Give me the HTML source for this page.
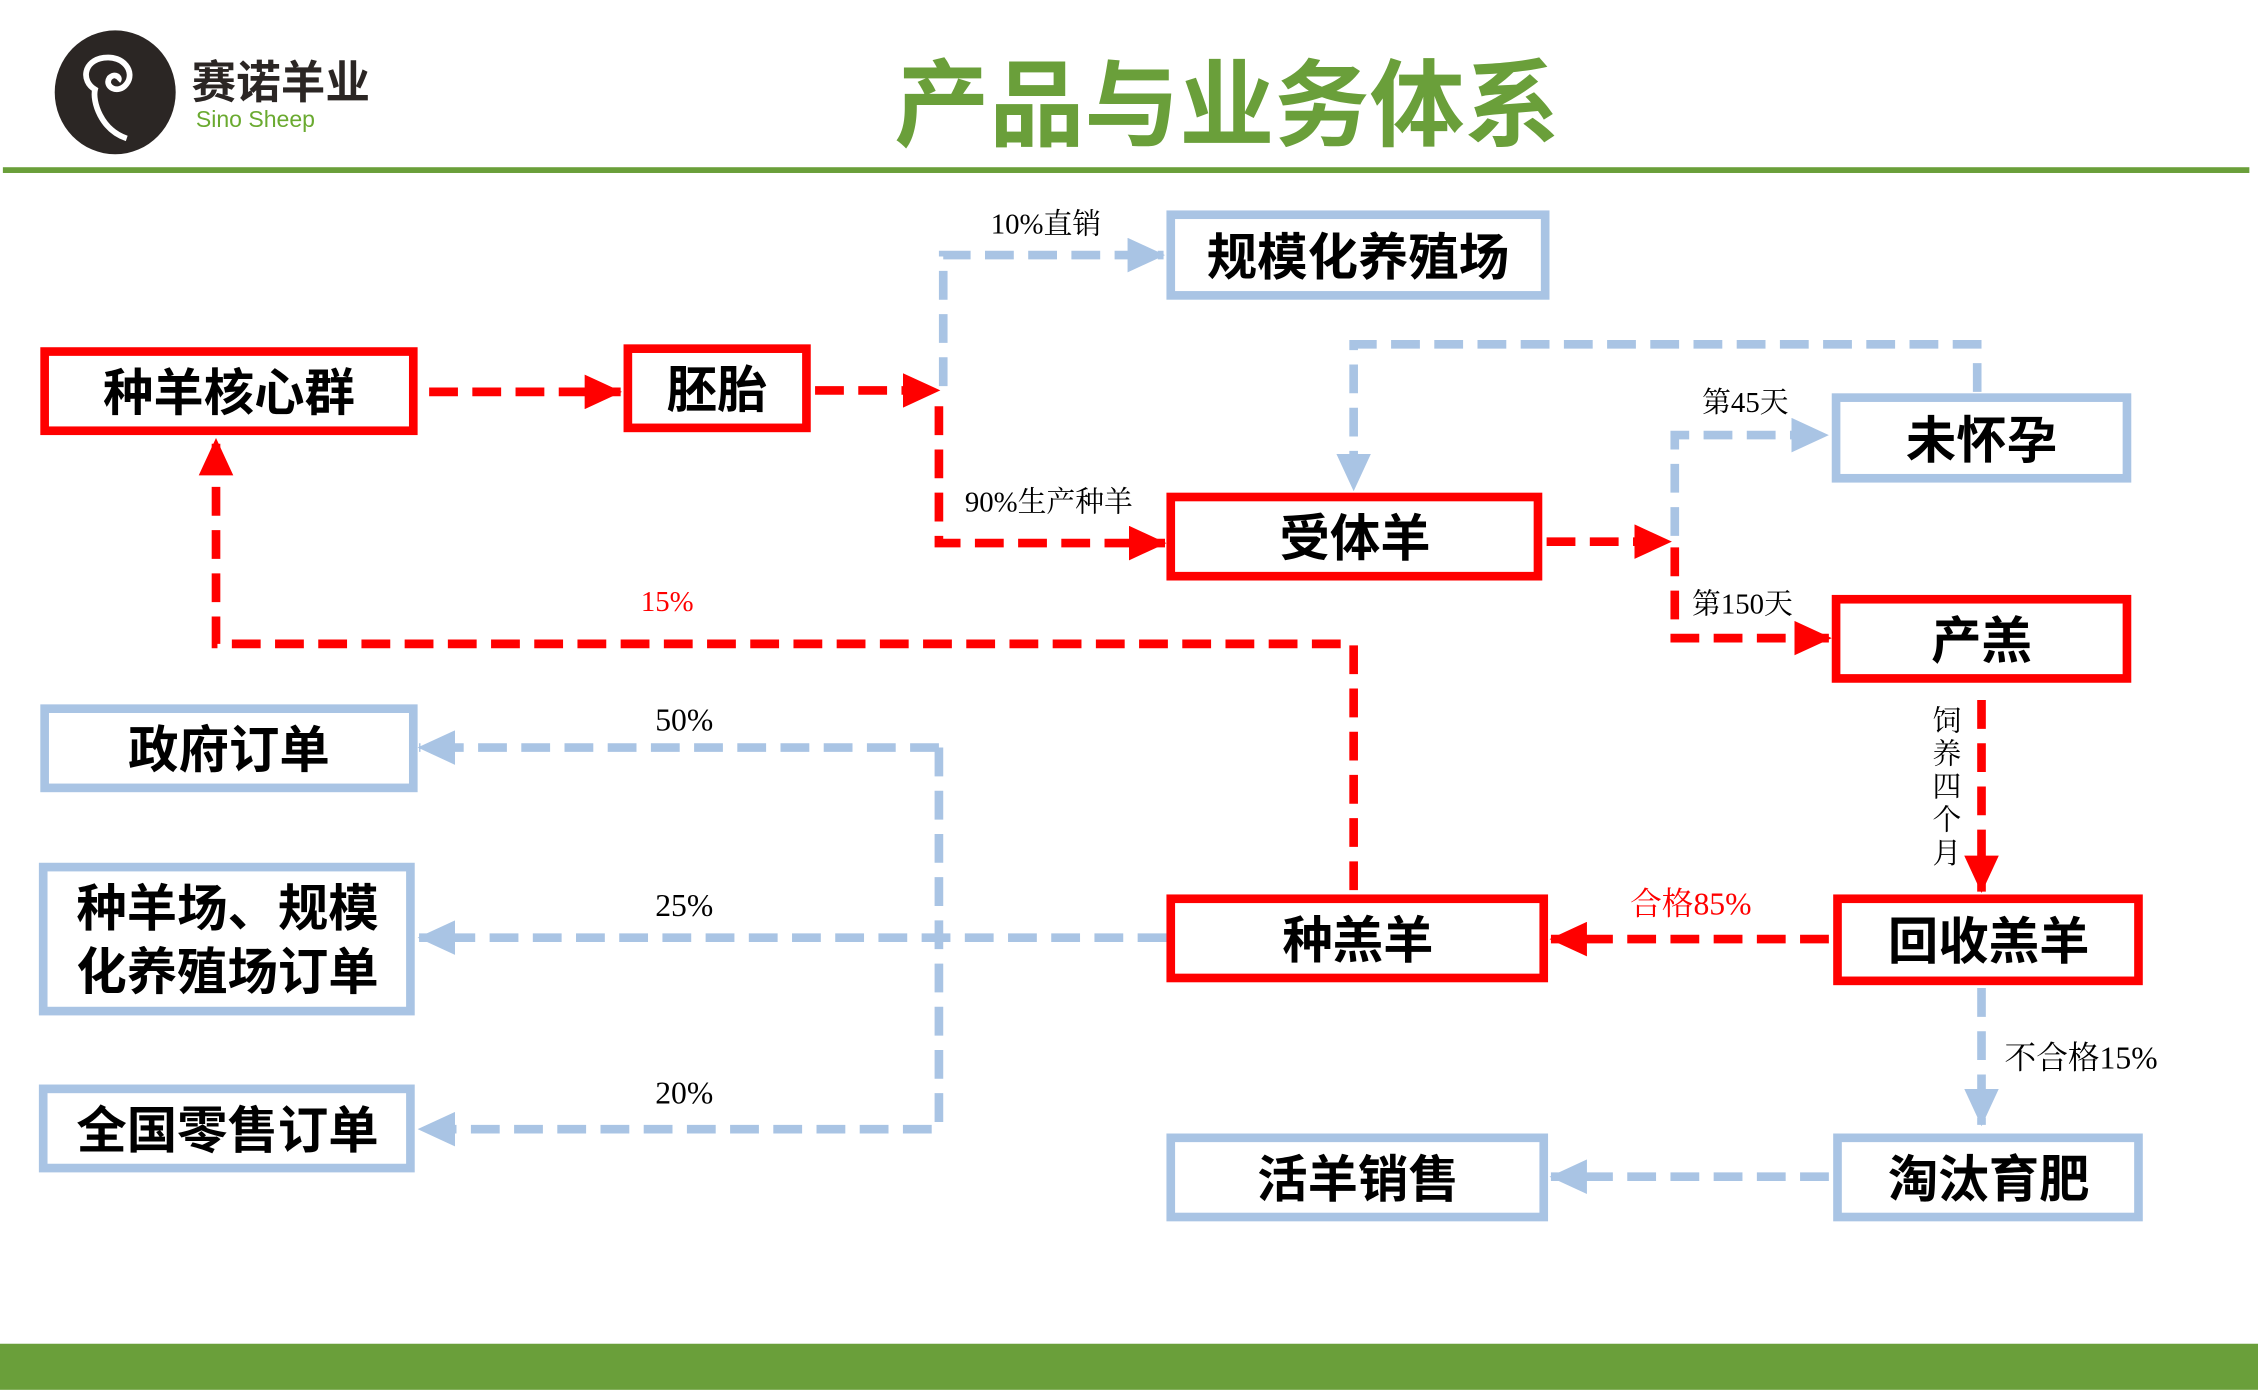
<!DOCTYPE html>
<html><head><meta charset="utf-8"><style>
html,body{margin:0;padding:0;background:#fff;}
svg{display:block;}
text{font-family:"Liberation Serif","Noto Serif CJK SC",serif;}
.b{font-family:"Liberation Sans","Noto Sans CJK SC",sans-serif;font-weight:bold;fill:#000;font-size:35px;}
</style></head><body>
<svg width="2258" height="1390" viewBox="0 0 1568 965" xmlns="http://www.w3.org/2000/svg">
<defs>
<marker id="ar" markerWidth="26" markerHeight="24" refX="25" refY="12" orient="auto" markerUnits="userSpaceOnUse" viewBox="0 0 26 24"><path d="M0,0 L26,12 L0,24 z" fill="#ff0000"/></marker>
<marker id="ab" markerWidth="26" markerHeight="24" refX="25" refY="12" orient="auto" markerUnits="userSpaceOnUse" viewBox="0 0 26 24"><path d="M0,0 L26,12 L0,24 z" fill="#a9c4e4"/></marker>
</defs>
<ellipse cx="80" cy="64" rx="42" ry="43" fill="#2b2624"/>
<path d="M88,96 C70,90 64,70 66,62 C56,56 58,42 72,40 C86,38 94,50 88,58 C82,66 72,60 76,54 C80,50 84,54 82,56" fill="none" stroke="#fff" stroke-width="4"/>
<text x="133" y="68" style="font-family:'Liberation Sans','Noto Sans CJK SC',sans-serif;font-weight:bold;font-size:31px;fill:#2b2624">赛诺羊业</text>
<text x="136" y="88" style="font-family:'Liberation Sans',sans-serif;font-size:16px;fill:#6aaa30">Sino Sheep</text>
<text x="852" y="96" text-anchor="middle" style="font-family:'Liberation Sans','Noto Sans CJK SC',sans-serif;font-weight:bold;font-size:66px;fill:#6a9f3a">产品与业务体系</text>
<rect x="2" y="116" width="1560" height="4" fill="#6a9f3a"/>
<rect x="0" y="933" width="1568" height="32" fill="#6a9f3a"/>

<g fill="none" stroke-width="6" stroke-dasharray="20 10">
<g stroke="#ff0000">
<path d="M298,272 H431" marker-end="url(#ar)"/>
<path d="M566,271 H652" marker-end="url(#ar)"/>
<path d="M652,282 V377 H809" marker-end="url(#ar)"/>
<path d="M1074,376 H1160" marker-end="url(#ar)"/>
<path d="M1163,380 V443 H1271" marker-end="url(#ar)"/>
<path d="M1376,486 V619" marker-end="url(#ar)"/>
<path d="M1270,652 H1077" marker-end="url(#ar)"/>
<path d="M940,618 V447 H150 V305" marker-end="url(#ar)"/>
</g>
<g stroke="#a9c4e4">
<path d="M655,268 V177 H808" marker-end="url(#ab)"/>
<path d="M1373,272 V239 H940 V340" marker-end="url(#ab)"/>
<path d="M1163,372 V302 H1269" marker-end="url(#ab)"/>
<path d="M1376,686 V781" marker-end="url(#ab)"/>
<path d="M1270,817 H1077" marker-end="url(#ab)"/>
<path d="M810,651 H291" marker-end="url(#ab)"/>
<path d="M652,519 H291" marker-end="url(#ab)"/>
<path d="M652,519 V784 H291" marker-end="url(#ab)"/>
</g>
</g>

<g fill="#fff" stroke-width="6">
<rect x="31" y="244" width="256" height="55" stroke="#ff0000"/>
<rect x="436" y="242" width="124" height="55" stroke="#ff0000"/>
<rect x="813" y="149" width="260" height="56" stroke="#a9c4e4"/>
<rect x="1275" y="276" width="202" height="56" stroke="#a9c4e4"/>
<rect x="813" y="345" width="255" height="55" stroke="#ff0000"/>
<rect x="1275" y="416" width="202" height="55" stroke="#ff0000"/>
<rect x="31" y="492" width="256" height="55" stroke="#a9c4e4"/>
<rect x="30" y="602" width="255" height="100" stroke="#a9c4e4"/>
<rect x="30" y="756" width="255" height="55" stroke="#a9c4e4"/>
<rect x="813" y="624" width="259" height="55" stroke="#ff0000"/>
<rect x="1276" y="624" width="209" height="57" stroke="#ff0000"/>
<rect x="813" y="790" width="259" height="55" stroke="#a9c4e4"/>
<rect x="1276" y="790" width="209" height="55" stroke="#a9c4e4"/>
</g>
<g text-anchor="middle">
<text class="b" x="159" y="285">种羊核心群</text>
<text class="b" x="498" y="283">胚胎</text>
<text class="b" x="943" y="191">规模化养殖场</text>
<text class="b" x="1376" y="318">未怀孕</text>
<text class="b" x="941" y="386">受体羊</text>
<text class="b" x="1376" y="457">产羔</text>
<text class="b" x="159" y="533">政府订单</text>
<text class="b" x="158" y="643">种羊场、规模</text>
<text class="b" x="158" y="687">化养殖场订单</text>
<text class="b" x="158" y="797">全国零售订单</text>
<text class="b" x="943" y="665">种羔羊</text>
<text class="b" x="1381" y="666">回收羔羊</text>
<text class="b" x="943" y="831">活羊销售</text>
<text class="b" x="1381" y="831">淘汰育肥</text>
</g>
<g font-size="20" fill="#000">
<text x="688" y="162">10%直销</text>
<text x="670" y="355">90%生产种羊</text>
<text x="1182" y="286">第45天</text>
<text x="1175" y="426">第150天</text>
<text x="445" y="424" fill="#ff0000">15%</text>
<text x="1132" y="635" fill="#ff0000" font-size="22">合格85%</text>
<text x="1392" y="742" font-size="22">不合格15%</text>
<text x="455" y="507" font-size="22">50%</text>
<text x="455" y="636" font-size="22">25%</text>
<text x="455" y="766" font-size="22">20%</text>
<g text-anchor="middle">
<text x="1352" y="507">饲</text>
<text x="1352" y="530">养</text>
<text x="1352" y="553">四</text>
<text x="1352" y="576">个</text>
<text x="1352" y="599">月</text>
</g>
</g>
</svg>
</body></html>
